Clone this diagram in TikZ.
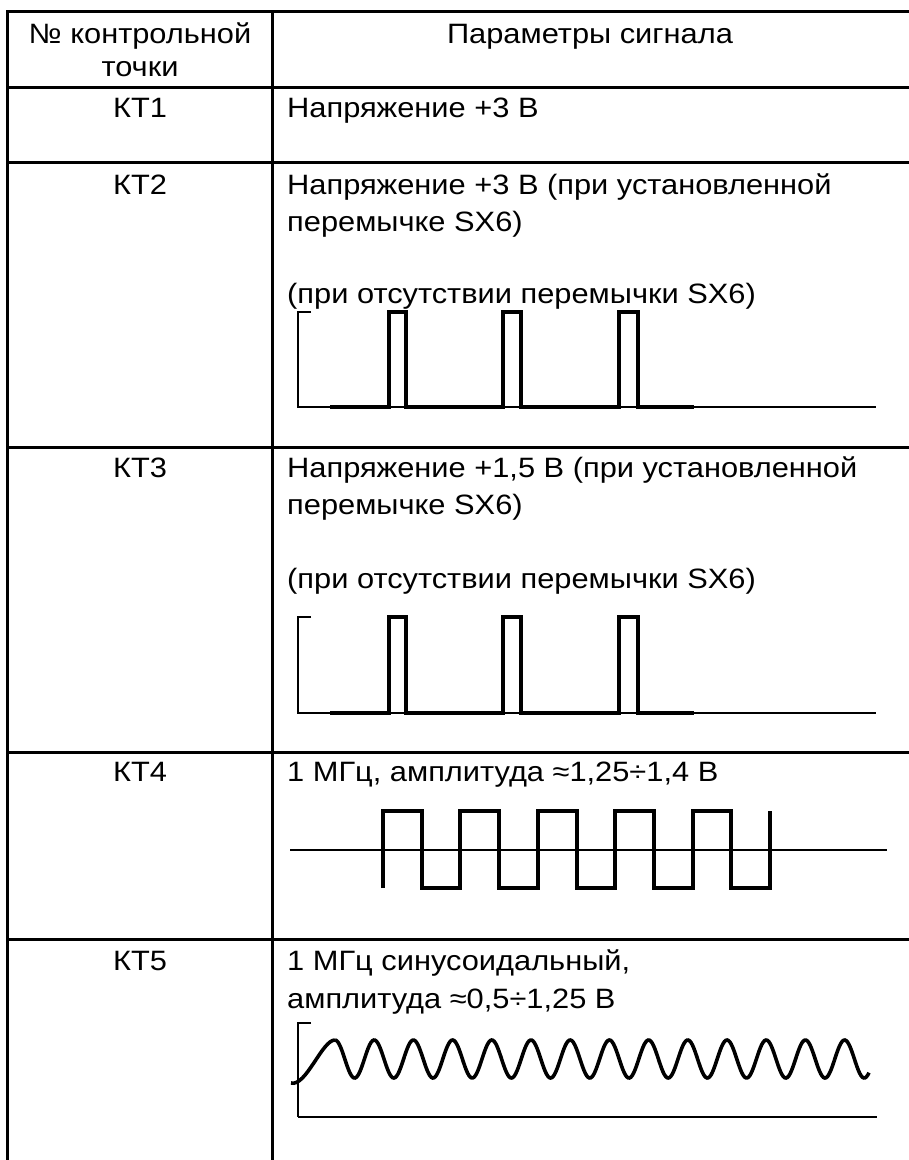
\documentclass[tikz,border=0pt]{standalone}
\usepackage{fontspec}
\setmainfont{Liberation Sans}[FakeStretch=1.1]
\begin{document}
\begin{tikzpicture}[x=1pt,y=-1pt,
  grid/.style={line width=3pt},
  ax/.style={line width=1.5pt},
  sig/.style={line width=3.6pt},
  txt/.style={anchor=base west,inner sep=0pt,font=\fontsize{28}{30}\selectfont},
  kt/.style={anchor=base,inner sep=0pt,font=\fontsize{28}{30}\selectfont}]
      \useasboundingbox[fill=white] (0,0) rectangle (909,1160);
      \draw[grid] (7,1175) -- (7,11) -- (925,11);
      \draw[grid] (272,11) -- (272,1175);
      \draw[grid] (7,87) -- (925,87);
      \draw[grid] (7,162) -- (925,162);
      \draw[grid] (7,447) -- (925,447);
      \draw[grid] (7,752) -- (925,752);
      \draw[grid] (7,939) -- (925,939);
      \node[kt] (num1) at (140,43) {№ контрольной};
      \node[kt] (num2) at (140,76) {точки};
      \node[kt] (par) at (590,43) {Параметры сигнала};
      \node[kt] (kt1) at (140,117) {КТ1};
      \node[txt] (u1) at (287,117) {Напряжение +3 В};
      \node[kt] (kt2) at (140,194) {КТ2};
      \node[txt] (u2a) at (287,194) {Напряжение +3 В (при установленной};
      \node[txt] (u2b) at (287,231) {перемычке SX6)};
      \node[txt] (u2c) at (287,303) {(при отсутствии перемычки SX6)};
      \draw[ax] (311,312) -- (298,312) -- (298,407) -- (876,407);
      \draw[sig] (330,407) -- (389,407) -- (389,312) -- (406,312) -- (406,407) -- (503,407) -- (503,312) -- (521,312) -- (521,407) -- (619,407) -- (619,312) -- (638,312) -- (638,407) -- (694,407);
      \node[kt] (kt3) at (140,477) {КТ3};
      \node[txt] (u3a) at (287,477) {Напряжение +1,5 В (при установленной};
      \node[txt] (u3b) at (287,514) {перемычке SX6)};
      \node[txt] (u3c) at (287,588) {(при отсутствии перемычки SX6)};
      \draw[ax] (311,617) -- (298,617) -- (298,713) -- (876,713);
      \draw[sig] (330,713) -- (389,713) -- (389,617) -- (406,617) -- (406,713) -- (503,713) -- (503,617) -- (521,617) -- (521,713) -- (619,713) -- (619,617) -- (638,617) -- (638,713) -- (694,713);
      \node[kt] (kt4) at (140,781) {КТ4};
      \node[txt] (f4) at (287,781) {1 МГц, амплитуда ≈1,25÷1,4 В};
      \draw[ax] (290,850) -- (887,850);
      \draw[sig] (383,888) -- (383,811) -- (422,811) -- (422,888) -- (460,888) -- (460,811) -- (499,811) -- (499,888) -- (538,888) -- (538,811) -- (577,811) -- (577,888) -- (615,888) -- (615,811) -- (654,811) -- (654,888) -- (693,888) -- (693,811) -- (731,811) -- (731,888) -- (770,888) -- (770,811);
      \node[kt] (kt5) at (140,970) {КТ5};
      \node[txt] (f5a) at (287,970) {1 МГц синусоидальный,};
      \node[txt] (f5b) at (287,1008) {амплитуда ≈0,5÷1,25 В};
      \draw[ax] (311,1023) -- (298,1023) -- (298,1117);
      \draw[line width=2.2pt] (298,1117) -- (877,1117);
      \draw[sig] (291,1083) .. controls (306,1087) and (322,1040) .. (335,1040);
      \draw[sig,domain=0:534,samples=400,smooth,variable=\x] plot ({335+\x},{1059-19*cos(9.1837*\x)});
\end{tikzpicture}
\end{document}
